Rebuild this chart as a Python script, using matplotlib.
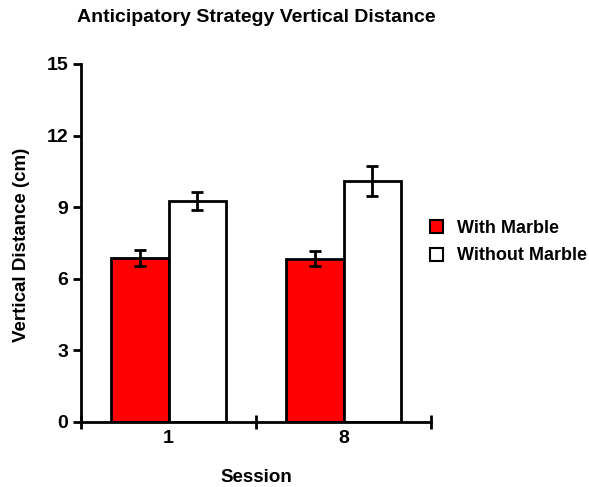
import numpy as np
import matplotlib.pyplot as plt
from matplotlib.patches import Patch

plt.rcParams['font.family'] = ['Liberation Sans', 'DejaVu Sans']
plt.rcParams['font.weight'] = 'bold'

sessions = ["1", "8"]
with_marble = [6.87, 6.85]
with_marble_err = [0.33, 0.33]
without_marble = [9.27, 10.1]
without_marble_err = [0.37, 0.63]

W, H = 589, 487
fig = plt.figure(figsize=(W / 100, H / 100), dpi=100)
ax = fig.add_axes([81 / W, 65 / H, 350 / W, 358 / H])

x = np.arange(len(sessions))
w = 0.33
lw = 2.0
ax.bar(x - w / 2, with_marble, w, yerr=with_marble_err, color='#ff0000',
       edgecolor='black', linewidth=lw, zorder=2,
       error_kw=dict(ecolor='black', elinewidth=lw, capsize=4, capthick=lw))
ax.bar(x + w / 2, without_marble, w, yerr=without_marble_err, color='white',
       edgecolor='black', linewidth=lw, zorder=2,
       error_kw=dict(ecolor='black', elinewidth=lw, capsize=4, capthick=lw))

ax.set_xlim(-0.5, 1.5)
ax.set_ylim(0, 15)
ax.set_yticks(np.arange(0, 16, 3))
ax.set_xticks(x)
ax.set_xticklabels(sessions)
ax.set_xticks([-0.5, 0.5, 1.5], minor=True)
ax.tick_params(axis='x', which='major', length=0, pad=6, labelsize=14)
ax.tick_params(axis='x', which='minor', length=10, width=lw, direction='inout')
ax.tick_params(axis='y', length=6, width=lw, labelsize=14, pad=3)

for s in ['top', 'right']:
    ax.spines[s].set_visible(False)
for s in ['left', 'bottom']:
    ax.spines[s].set_linewidth(lw)

# titles and axis labels placed in figure pixels
fig.text(256 / W, 1 - 18 / H, "Anticipatory Strategy Vertical Distance",
         fontsize=14, fontweight='bold', ha='center', va='center')
fig.text(22 / W, 1 - 245 / H, "Vertical Distance (cm)", fontsize=13.5,
         fontweight='bold', rotation=90, ha='center', va='center')
fig.text(256 / W, 1 - 477 / H, "Session", fontsize=13.5, fontweight='bold',
         ha='center', va='center')

handles = [Patch(facecolor='#ff0000', edgecolor='black', linewidth=1.5),
           Patch(facecolor='white', edgecolor='black', linewidth=1.5)]
fig.legend(handles, ["With Marble", "Without Marble"], loc='center left',
           bbox_to_anchor=(430 / W, 1 - 242 / H), frameon=False, fontsize=13,
           handlelength=0.72, handleheight=0.72, handletextpad=0.8,
           labelspacing=0.6, borderpad=0, borderaxespad=0)

fig.savefig("out.png", dpi=100)
